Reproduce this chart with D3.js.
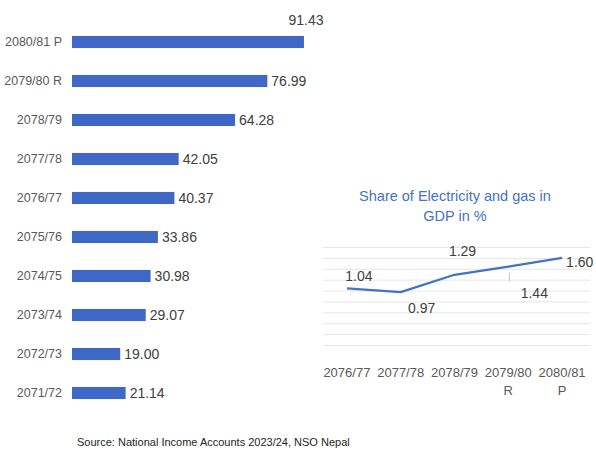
<!DOCTYPE html>
<html>
<head>
<meta charset="utf-8">
<script src="https://cdn.jsdelivr.net/npm/d3@7"></script>
<style>
  html, body { margin: 0; padding: 0; background: #ffffff; }
  svg { display: block; }
  text { font-family: "Liberation Sans Narrow", "Liberation Sans", Arial, sans-serif; }
</style>
</head>
<body>
<script>
// ---- Data: bar chart (value added, top to bottom) ----
const barCategories = ["2080/81 P", "2079/80 R", "2078/79", "2077/78", "2076/77",
                       "2075/76", "2074/75", "2073/74", "2072/73", "2071/72"];
const barValues = [91.43, 76.99, 64.28, 42.05, 40.37, 33.86, 30.98, 29.07, 19.00, 21.14];

// ---- Data: inset line chart (share of electricity and gas in GDP, %) ----
const lineCategories = ["2076/77", "2077/78", "2078/79", "2079/80", "2080/81"];
const lineSubLabels = ["", "", "", "R", "P"];
const lineValues = [1.04, 0.97, 1.29, 1.44, 1.60];
const lineGridTicks = [0, 0.2, 0.4, 0.6, 0.8, 1.0, 1.2, 1.4, 1.6, 1.8];

const titleLines = ["Share of Electricity and gas in", "GDP in %"];
const sourceText = "Source: National Income Accounts 2023/24, NSO Nepal";

// ---- Layout ----
const W = 596, H = 452;
const blue = "#4472C4";
const barBlue = "#3f68c6";
const svg = d3.select("body").append("svg").attr("width", W).attr("height", H);

// Bar chart scales
const y = d3.scaleBand().domain(barCategories).range([22.5, 412.5])
  .paddingInner(0.69).paddingOuter(0.345);
const x = d3.scaleLinear().domain([0, 100]).range([72, 325.7]);

const bars = svg.append("g");
bars.selectAll("rect").data(barCategories).join("rect")
  .attr("x", x(0))
  .attr("y", d => y(d))
  .attr("width", (d, i) => x(barValues[i]) - x(0))
  .attr("height", y.bandwidth())
  .attr("fill", barBlue);

// Category labels
bars.selectAll("text.cat").data(barCategories).join("text")
  .attr("class", "cat")
  .attr("x", x(0) - 10)
  .attr("y", d => y(d) + y.bandwidth() / 2)
  .attr("dy", "0.35em")
  .attr("text-anchor", "end")
  .attr("font-size", 12.5)
  .attr("fill", "#595959")
  .text(d => d);

// Value labels (largest placed above the bar end)
bars.selectAll("text.val").data(barCategories).join("text")
  .attr("class", "val")
  .attr("x", (d, i) => i === 0 ? x(barValues[i]) + 2 : x(barValues[i]) + 4)
  .attr("y", (d, i) => i === 0 ? y(d) - 11 : y(d) + y.bandwidth() / 2)
  .attr("dy", (d, i) => i === 0 ? "0" : "0.35em")
  .attr("text-anchor", (d, i) => i === 0 ? "middle" : "start")
  .attr("font-size", 14)
  .attr("fill", "#404040")
  .text((d, i) => barValues[i].toFixed(2));

// ---- Inset line chart ----
const lx = d3.scalePoint().domain(lineCategories).range([320, 589]).padding(0.5);
const ly = d3.scaleLinear().domain([0, 1.8]).range([345, 247]);

const inset = svg.append("g");

// Title
inset.selectAll("text.title").data(titleLines).join("text")
  .attr("class", "title")
  .attr("x", 455)
  .attr("y", (d, i) => 201 + i * 20)
  .attr("text-anchor", "middle")
  .attr("font-size", 14.5)
  .attr("fill", blue)
  .text(d => d);

// Gridlines
inset.append("g")
  .attr("transform", "translate(323,0)")
  .call(d3.axisLeft(ly).tickValues(lineGridTicks).tickSize(-267).tickFormat(""))
  .call(g => g.select(".domain").remove())
  .call(g => g.selectAll(".tick line").attr("stroke", "#e6e6e6").attr("stroke-width", 1));

// Category axis labels
const xAxis = inset.append("g");
xAxis.selectAll("text.xl").data(lineCategories).join("text")
  .attr("class", "xl")
  .attr("x", d => lx(d))
  .attr("y", 377)
  .attr("text-anchor", "middle")
  .attr("font-size", 13)
  .attr("fill", "#595959")
  .text(d => d);
xAxis.selectAll("text.xs").data(lineCategories).join("text")
  .attr("class", "xs")
  .attr("x", d => lx(d))
  .attr("y", 395)
  .attr("text-anchor", "middle")
  .attr("font-size", 13)
  .attr("fill", "#595959")
  .text((d, i) => lineSubLabels[i]);

// Line
const line = d3.line()
  .x((d, i) => lx(lineCategories[i]))
  .y(d => ly(d));
inset.append("path")
  .datum(lineValues)
  .attr("d", line)
  .attr("fill", "none")
  .attr("stroke", blue)
  .attr("stroke-width", 2.25)
  .attr("stroke-linejoin", "round");

// Data labels: placement offsets relative to each point
const labelDx = [12, 21, 8, 26, 4];
const labelDy = [-7, 21, -19, 31, 9];
const labelAnchor = ["middle", "middle", "middle", "middle", "start"];

// leader line for the 1.44 label
inset.append("line")
  .attr("x1", lx(lineCategories[3]) + 1).attr("x2", lx(lineCategories[3]) + 1)
  .attr("y1", ly(lineValues[3]) + 6).attr("y2", ly(lineValues[3]) + 15)
  .attr("stroke", "#bfbfbf").attr("stroke-width", 1);

inset.selectAll("text.dl").data(lineValues).join("text")
  .attr("class", "dl")
  .attr("x", (d, i) => lx(lineCategories[i]) + labelDx[i])
  .attr("y", (d, i) => ly(d) + labelDy[i])
  .attr("text-anchor", (d, i) => labelAnchor[i])
  .attr("font-size", 14)
  .attr("fill", "#404040")
  .text(d => d.toFixed(2));

// Source
svg.append("text")
  .attr("x", 77)
  .attr("y", 446)
  .attr("font-size", 11)
  .attr("fill", "#262626")
  .text(sourceText);
</script>
</body>
</html>
